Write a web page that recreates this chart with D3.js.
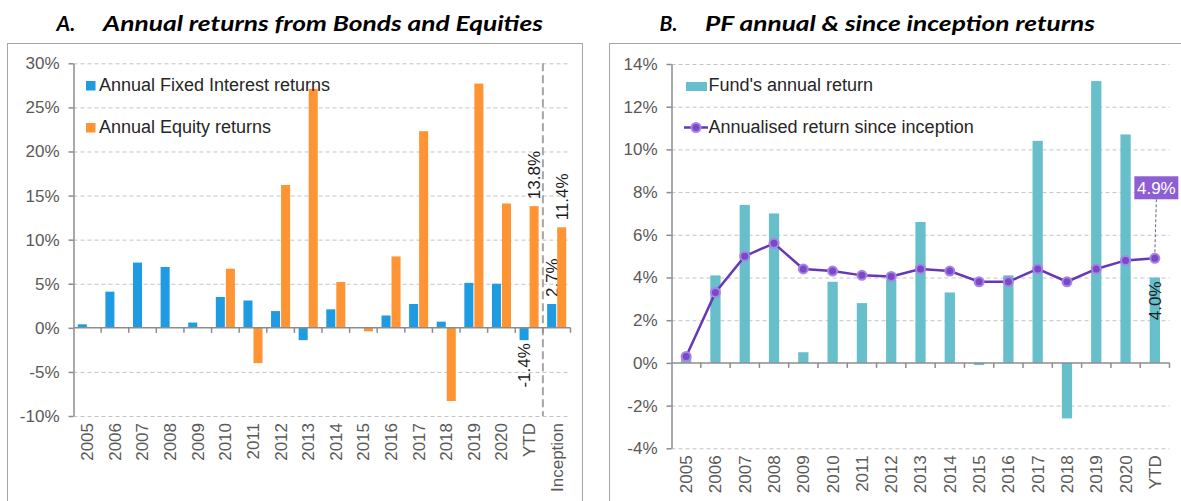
<!DOCTYPE html>
<html>
<head>
<meta charset="utf-8">
<script src="https://cdn.jsdelivr.net/npm/d3@7"></script>
<style>
body { margin: 0; background: #fff; }
text { font-family: "Liberation Sans", Arial, sans-serif; }
.title { font-family: Lato, "Open Sans", sans-serif; font-weight: 700; font-style: italic; fill: #000; }
</style>
</head>
<body>
<div id="chart"></div>
<script>
// ---- data ----
var years = ["2005", "2006", "2007", "2008", "2009", "2010", "2011", "2012", "2013",
  "2014", "2015", "2016", "2017", "2018", "2019", "2020", "YTD"];
var leftCats = years.concat(["Inception"]);
// panel A, % returns
var fixedInterest = [0.4, 4.1, 7.4, 6.9, 0.6, 3.5, 3.1, 1.9, -1.4, 2.1, null, 1.4, 2.7, 0.7, 5.1, 5.0, -1.4, 2.7];
var equity = [null, null, null, null, null, 6.7, -4.0, 16.2, 27.1, 5.2, -0.4, 8.1, 22.3, -8.3, 27.7, 14.1, 13.8, 11.4];
var leftTicks = [-10, -5, 0, 5, 10, 15, 20, 25, 30];
var leftLabelled = ["YTD", "Inception"];
// panel B, % returns
var fundAnnual = [0.3, 4.1, 7.4, 7.0, 0.5, 3.8, 2.8, 3.9, 6.6, 3.3, -0.1, 4.1, 10.4, -2.6, 13.2, 10.7, 4.0];
var sinceInception = [0.3, 3.3, 5.0, 5.6, 4.4, 4.3, 4.1, 4.05, 4.4, 4.3, 3.8, 3.8, 4.4, 3.8, 4.4, 4.8, 4.9];
var rightTicks = [-4, -2, 0, 2, 4, 6, 8, 10, 12, 14];

var width = 1181, height = 501;
var svg = d3.select("#chart").append("svg").attr("width", width).attr("height", height);

var pct = function (d) { return d + "%"; };
var axisColor = "#8c8c8c", tickText = "#595959";

// panel frames
svg.append("rect").attr("x", 7.5).attr("y", 43.5).attr("width", 575).attr("height", 480)
  .attr("fill", "none").attr("stroke", "#a6a6a6");
svg.append("rect").attr("x", 609.5).attr("y", 43.5).attr("width", 600).attr("height", 480)
  .attr("fill", "none").attr("stroke", "#a6a6a6");

// titles
function title(x1, x2, len, letter, txt) {
  svg.append("text").attr("class", "title").attr("x", x1).attr("y", 31).style("font-size", "21px").text(letter);
  svg.append("text").attr("class", "title").attr("x", x2).attr("y", 31).style("font-size", "21px")
    .attr("textLength", len).attr("lengthAdjust", "spacingAndGlyphs").text(txt);
}
title(56.5, 103, 440, "A.", "Annual returns from Bonds and Equities");
title(659.5, 705, 390, "B.", "PF annual & since inception returns");

function yAxis(g, y, ticks, x0, x1) {
  // grid
  g.append("g").attr("transform", "translate(" + x0 + ",0)")
    .call(d3.axisLeft(y).tickValues(ticks.filter(function (t) { return t !== 0; })).tickSize(-(x1 - x0)).tickFormat(""))
    .call(function (s) {
      s.select(".domain").remove();
      s.selectAll("line").attr("stroke", "#c4c4c4").attr("stroke-dasharray", "4,3");
    });
  g.append("g").attr("transform", "translate(" + x0 + ",0)")
    .call(d3.axisLeft(y).tickValues(ticks).tickFormat(pct).tickSize(5).tickSizeOuter(0).tickPadding(9))
    .call(function (s) {
      s.select(".domain").attr("stroke", axisColor).attr("stroke-width", 1.5);
      s.selectAll("line").attr("stroke", axisColor).attr("stroke-width", 1.5);
      s.selectAll("text").attr("fill", tickText).style("font-size", "17px").style("font-family", "Liberation Sans, Arial");
    });
}

function xAxis(g, x, y, cats, bottomY) {
  // zero line with boundary ticks
  var r = x.range();
  g.append("line").attr("x1", r[0]).attr("x2", r[1]).attr("y1", y(0)).attr("y2", y(0))
    .attr("stroke", axisColor).attr("stroke-width", 1.5);
  g.selectAll(".bt").data(cats.slice(1).concat([null])).enter().append("line")
    .attr("x1", function (d) { return d ? x(d) : r[1]; })
    .attr("x2", function (d) { return d ? x(d) : r[1]; })
    .attr("y1", y(0)).attr("y2", y(0) + 5)
    .attr("stroke", axisColor).attr("stroke-width", 1.5);
  // rotated category labels below the plot
  g.append("g").attr("transform", "translate(0," + bottomY + ")")
    .call(d3.axisBottom(x).tickSize(0).tickPadding(0))
    .call(function (s) {
      s.select(".domain").remove();
      s.selectAll("text").attr("fill", tickText).style("font-size", "17px").style("font-family", "Liberation Sans, Arial")
        .attr("text-anchor", "end").attr("transform", "rotate(-90)")
        .attr("x", -7).attr("y", 0).attr("dy", "0.35em");
    });
}

// ================= Panel A =================
var gA = svg.append("g");
var xA = d3.scaleBand().domain(leftCats).range([73.5, 570.5]).padding(0);
var yA = d3.scaleLinear().domain([-10, 30]).range([416, 63.3]);
yAxis(gA, yA, leftTicks, 73.5, 570.5);

var pad = xA.bandwidth() * 0.155;
var xSer = d3.scaleBand().domain(["fi", "eq"]).range([pad, xA.bandwidth() - pad]).paddingInner(0.1);
var seriesA = [
  { key: "fi", values: fixedInterest, color: "#1f9be2", name: "Annual Fixed Interest returns" },
  { key: "eq", values: equity, color: "#fe9433", name: "Annual Equity returns" }
];

// divider before Inception
gA.append("line").attr("x1", xA("Inception")).attr("x2", xA("Inception"))
  .attr("y1", yA(30)).attr("y2", yA(-10))
  .attr("stroke", "#a6a6a6").attr("stroke-width", 2).attr("stroke-dasharray", "8,4");

seriesA.forEach(function (s) {
  var pts = leftCats.map(function (c, i) { return { cat: c, v: s.values[i] }; })
    .filter(function (d) { return d.v !== null; });
  gA.append("g").selectAll("rect").data(pts).enter().append("rect")
    .attr("x", function (d) { return xA(d.cat) + xSer(s.key); })
    .attr("width", xSer.bandwidth())
    .attr("y", function (d) { return yA(Math.max(0, d.v)); })
    .attr("height", function (d) { return Math.abs(yA(d.v) - yA(0)); })
    .attr("fill", s.color);
  // value labels
  gA.append("g").selectAll("text").data(pts.filter(function (d) { return leftLabelled.indexOf(d.cat) >= 0; }))
    .enter().append("text")
    .attr("transform", function (d) {
      var cx = xA(d.cat) + xSer(s.key) + xSer.bandwidth() / 2;
      var cy = d.v >= 0 ? yA(d.v) - 7 : yA(d.v) + 3;
      return "translate(" + cx + "," + cy + ") rotate(-90)";
    })
    .attr("text-anchor", function (d) { return d.v >= 0 ? "start" : "end"; })
    .attr("dy", "0.35em").style("font-size", "17px").attr("fill", "#1a1a1a")
    .text(function (d) { return d.v.toFixed(1) + "%"; });
});
xAxis(gA, xA, yA, leftCats, yA(-10));

// legend A
var legA = gA.append("g").selectAll("g").data(seriesA).enter().append("g")
  .attr("transform", function (d, i) { return "translate(86," + (81 + i * 42) + ")"; });
legA.append("rect").attr("width", 9.5).attr("height", 9.5).attr("fill", function (d) { return d.color; });
legA.append("text").attr("x", 13).attr("y", 9.8).style("font-size", "18px").attr("fill", "#262626")
  .text(function (d) { return d.name; });

// ================= Panel B =================
var gB = svg.append("g");
var xB = d3.scaleBand().domain(years).range([671.5, 1169.5]).padding(0);
var xBbar = d3.scaleBand().domain(years).range([671.5, 1169.5]).paddingInner(0.65).paddingOuter(0.325);
var yB = d3.scaleLinear().domain([-4, 14]).range([448.3, 64]);
yAxis(gB, yB, rightTicks, 671.5, 1169.5);

var teal = "#67bfcb", purple = "#6638b6";
var fundPts = years.map(function (c, i) { return { cat: c, v: fundAnnual[i] }; });
gB.append("g").selectAll("rect").data(fundPts).enter().append("rect")
  .attr("x", function (d) { return xBbar(d.cat); })
  .attr("width", xBbar.bandwidth())
  .attr("y", function (d) { return yB(Math.max(0, d.v)); })
  .attr("height", function (d) { return Math.abs(yB(d.v) - yB(0)); })
  .attr("fill", teal);
xAxis(gB, xB, yB, years, yB(-4));

var cx = function (c) { return xB(c) + xB.bandwidth() / 2; };
var linePts = years.map(function (c, i) { return { cat: c, v: sinceInception[i] }; });
gB.append("path").datum(linePts)
  .attr("d", d3.line().x(function (d) { return cx(d.cat); }).y(function (d) { return yB(d.v); }))
  .attr("fill", "none").attr("stroke", purple).attr("stroke-width", 2.5);
gB.append("g").selectAll("circle").data(linePts).enter().append("circle")
  .attr("cx", function (d) { return cx(d.cat); }).attr("cy", function (d) { return yB(d.v); })
  .attr("r", 4.5).attr("fill", "#7a49c8").attr("stroke", "#a884e4").attr("stroke-width", 2);

// YTD labels
var lastFund = fundPts[fundPts.length - 1];
gB.append("text")
  .attr("transform", "translate(" + cx(lastFund.cat) + "," + (yB(lastFund.v) + 4) + ") rotate(-90)")
  .attr("text-anchor", "end").attr("dy", "0.35em").style("font-size", "17px").attr("fill", "#1a1a1a")
  .text(lastFund.v.toFixed(1) + "%");
var lastLine = linePts[linePts.length - 1];
var boxW = 44, boxH = 23, boxCx = cx(lastLine.cat) + 1.5, boxY = yB(lastLine.v) - 82;
gB.append("line").attr("x1", boxCx).attr("x2", cx(lastLine.cat))
  .attr("y1", boxY + boxH).attr("y2", yB(lastLine.v) - 6)
  .attr("stroke", "#5a6a8a").attr("stroke-width", 1).attr("stroke-dasharray", "3,2");
gB.append("rect").attr("x", boxCx - boxW / 2).attr("y", boxY).attr("width", boxW).attr("height", boxH)
  .attr("fill", "#8d5fd3");
gB.append("text").attr("x", boxCx).attr("y", boxY + boxH / 2).attr("dy", "0.35em")
  .attr("text-anchor", "middle").style("font-size", "17px").attr("fill", "#fff")
  .text(lastLine.v.toFixed(1) + "%");

// legend B
gB.append("rect").attr("x", 686).attr("y", 82).attr("width", 21).attr("height", 9).attr("fill", teal);
gB.append("text").attr("x", 708.5).attr("y", 91).style("font-size", "18px").attr("fill", "#262626")
  .text("Fund's annual return");
gB.append("line").attr("x1", 684).attr("x2", 708).attr("y1", 127.5).attr("y2", 127.5)
  .attr("stroke", purple).attr("stroke-width", 2.5);
gB.append("circle").attr("cx", 696).attr("cy", 127.5).attr("r", 4.5)
  .attr("fill", "#7a49c8").attr("stroke", "#a884e4").attr("stroke-width", 2);
gB.append("text").attr("x", 708.5).attr("y", 133).style("font-size", "18px").attr("fill", "#262626")
  .text("Annualised return since inception");
</script>
</body>
</html>
